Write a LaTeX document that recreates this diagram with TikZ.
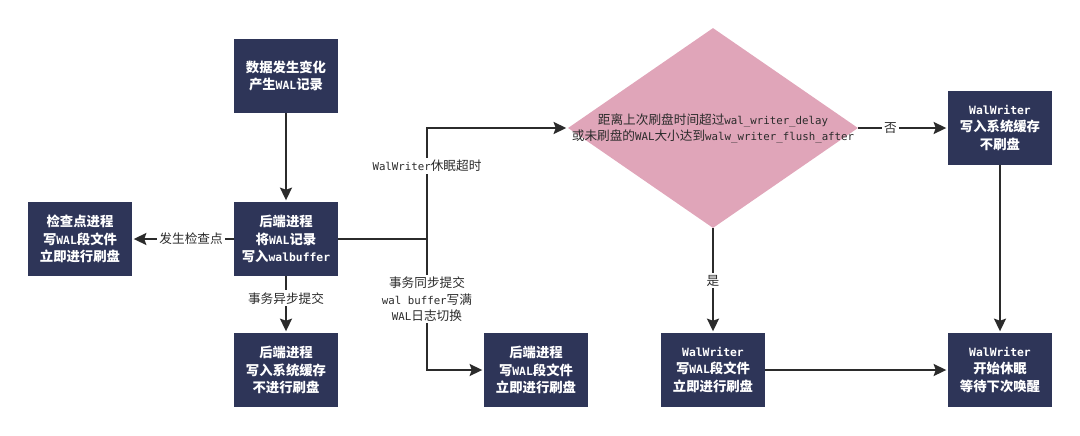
\documentclass[tikz,border=0pt]{standalone}
\usepackage{fontspec}
\setmainfont{Noto Sans CJK SC}
\newfontfamily\latfont[Scale=0.85]{DejaVu Sans Mono}
\newcommand{\mono}[1]{{\latfont #1}}
\usetikzlibrary{shapes.geometric, arrows.meta}
\definecolor{boxnavy}{RGB}{46,53,88}
\definecolor{diapink}{RGB}{224,165,185}
\definecolor{linegray}{RGB}{43,43,43}

\begin{document}
\begin{tikzpicture}[x=0.025cm, y=-0.025cm, >={Stealth[length=9pt, width=8.5pt, inset=1.5pt]},
	procbox/.style={fill=boxnavy, text=white, minimum width=2.6cm, minimum height=1.85cm, align=center, inner sep=2pt, font=\fontsize{9.5}{12.5}\selectfont\bfseries},
	lbl/.style={fill=white, text=linegray, align=center, inner sep=1.5pt, font=\fontsize{9}{11.5}\selectfont},
	flow/.style={draw=linegray, line width=1.4pt, shorten >=1pt}]
	\useasboundingbox (0,0) rectangle (1080,435);
	% boxes
	\node[procbox] (change) at (286,76) {数据发生变化\\产生\mono{WAL}记录};
	\node[procbox] (backend) at (286,239) {后端进程\\将\mono{WAL}记录\\写入\mono{walbuffer}};
	\node[procbox] (ckpt) at (80,239) {检查点进程\\写\mono{WAL}段文件\\立即进行刷盘};
	\node[procbox] (async) at (286,370) {后端进程\\写入系统缓存\\不进行刷盘};
	\node[procbox] (sync) at (536,370) {后端进程\\写\mono{WAL}段文件\\立即进行刷盘};
	\node[procbox] (wflush) at (713,370) {\mono{WalWriter}\\写\mono{WAL}段文件\\立即进行刷盘};
	\node[procbox] (nflush) at (1000,128) {\mono{WalWriter}\\写入系统缓存\\不刷盘};
	\node[procbox] (sleep) at (1000,370) {\mono{WalWriter}\\开始休眠\\等待下次唤醒};
	% decision
	\node[diamond, fill=diapink, minimum width=7.25cm, minimum height=5cm, inner sep=0pt] (check) at (713,128) {};
	\node[align=center, text=linegray, font=\fontsize{9}{11.5}\selectfont] (checktxt) at (check.center)
		{距离上次刷盘时间超过\mono{wal\_writer\_delay}\\或未刷盘的\mono{WAL}大小达到\mono{walw\_writer\_flush\_after}};
	% arrows
	\draw[flow, ->] (change) -- (backend);
	\draw[flow, ->] (backend) -- node[lbl, pos=.42] {发生检查点} (ckpt);
	\draw[flow, ->] (backend) -- node[lbl, pos=.39] {事务异步提交} (async);
	\coordinate (fork) at (427,239);
	\draw[flow, shorten >=0pt] (backend) -- (fork);
	\draw[flow, ->] (fork) |- node[lbl, pos=.33] {\mono{WalWriter}休眠超时} (check.west);
	\draw[flow, ->] (fork) |- node[lbl, pos=.23] {事务同步提交\\\mono{wal buffer}写满\\\mono{WAL}日志切换} (sync.west);
	\draw[flow, ->] (check.south) -- node[lbl] {是} (wflush);
	\draw[flow, ->] (check.east) -- node[lbl, pos=.36] {否} (nflush);
	\draw[flow, ->] (nflush) -- (sleep);
	\draw[flow, ->] (wflush) -- (sleep);
\end{tikzpicture}
\end{document}
